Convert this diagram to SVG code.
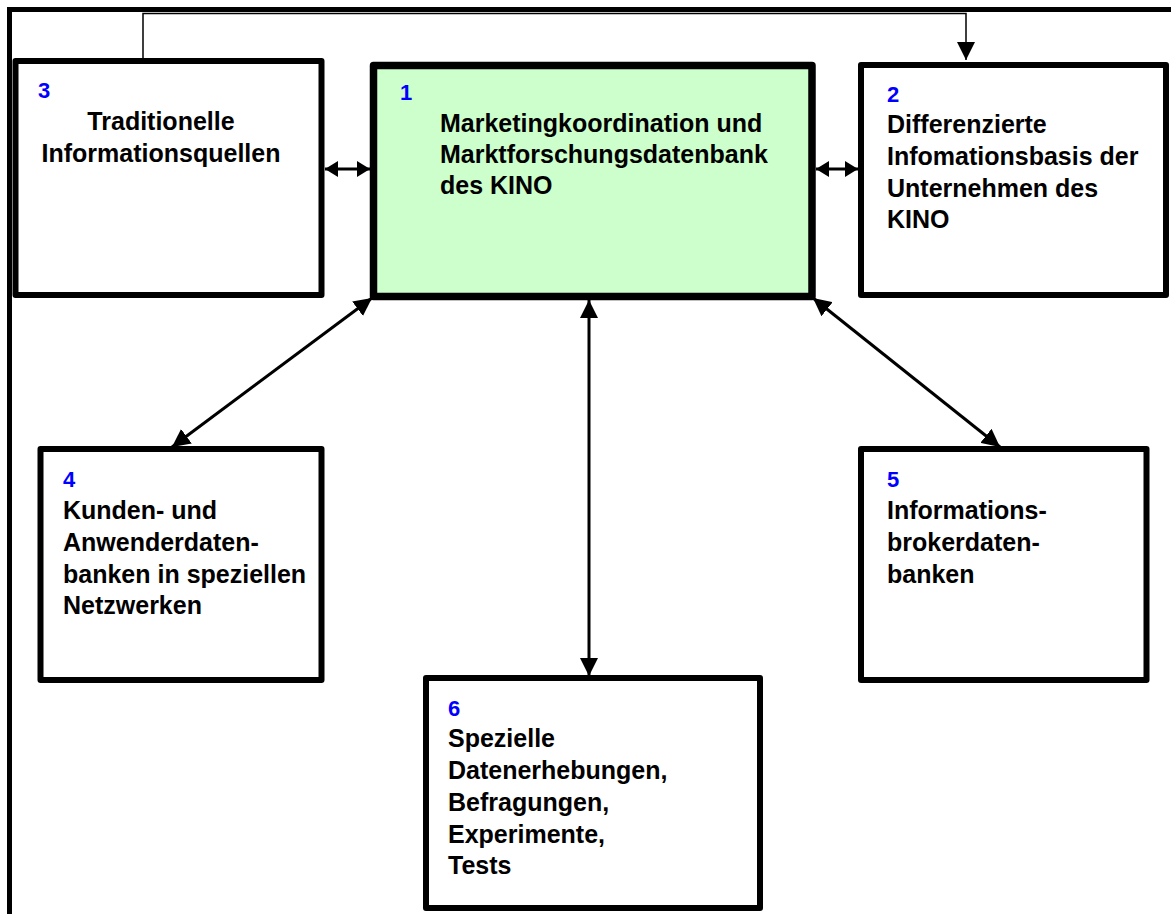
<svg xmlns="http://www.w3.org/2000/svg" width="1171" height="914" viewBox="0 0 1171 914">
<style>
.box{fill:#fff;stroke:#000;stroke-width:6;stroke-linejoin:round}
.main{fill:#ccffcc;stroke:#000;stroke-width:7.5;stroke-linejoin:round}
.t{font-family:"Liberation Sans",Arial,sans-serif;font-weight:bold;font-size:25px;fill:#000}
.n{font-family:"Liberation Sans",Arial,sans-serif;font-weight:bold;font-size:22px;fill:#0000ff}
.c{fill:none;stroke:#000;stroke-width:3}
</style>
<defs>
<marker id="ah" markerUnits="userSpaceOnUse" markerWidth="18" markerHeight="18" refX="16" refY="8" orient="auto-start-reverse" viewBox="0 0 16 16">
<path d="M0,0 L16,8 L0,16 z" fill="#000"/>
</marker>
<marker id="ahs" markerUnits="userSpaceOnUse" markerWidth="14" markerHeight="16" refX="13" refY="8" orient="auto-start-reverse" viewBox="0 0 13 16">
<path d="M0,0 L13,8 L0,16 z" fill="#000"/>
</marker>
</defs>
<rect x="9.5" y="9.5" width="1200" height="1000" fill="none" stroke="#000" stroke-width="5"/>
<g id="connectors">
<polyline points="143,61 143,13.5 966,13.5 966,60" fill="none" stroke="#000" stroke-width="1.5" marker-end="url(#ah)"/>
<line class="c" x1="325" y1="169" x2="370" y2="169" marker-start="url(#ahs)" marker-end="url(#ahs)"/>
<line class="c" x1="816" y1="169" x2="858" y2="169" marker-start="url(#ahs)" marker-end="url(#ahs)"/>
<line class="c" x1="372" y1="298" x2="172" y2="447" marker-start="url(#ah)" marker-end="url(#ah)"/>
<line class="c" x1="813" y1="298" x2="1000" y2="447" marker-start="url(#ah)" marker-end="url(#ah)"/>
<line class="c" x1="589" y1="300" x2="589" y2="676" stroke-width="2.5" marker-start="url(#ah)" marker-end="url(#ah)"/>
</g>
<g id="node3">
<rect class="box" x="15.5" y="61" width="306" height="234"/>
<text class="n" x="38" y="98">3</text>
<text class="t" x="161" y="130" text-anchor="middle">Traditionelle</text>
<text class="t" x="161" y="162" text-anchor="middle">Informationsquellen</text>
</g>
<g id="node1">
<rect class="main" x="373.5" y="65.5" width="438.5" height="231"/>
<text class="n" x="400" y="100">1</text>
<text class="t" x="440" y="132">Marketingkoordination und</text>
<text class="t" x="440" y="163">Marktforschungsdatenbank</text>
<text class="t" x="440" y="194">des KINO</text>
</g>
<g id="node2">
<rect class="box" x="861" y="65" width="305" height="230"/>
<text class="n" x="887" y="102">2</text>
<text class="t" x="887" y="133">Differenzierte</text>
<text class="t" x="887" y="165">Infomationsbasis der</text>
<text class="t" x="887" y="196.5">Unternehmen des</text>
<text class="t" x="887" y="228">KINO</text>
</g>
<g id="node4">
<rect class="box" x="40.5" y="449" width="281" height="231"/>
<text class="n" x="63" y="487">4</text>
<text class="t" x="63" y="518.5">Kunden- und</text>
<text class="t" x="63" y="550.5">Anwenderdaten-</text>
<text class="t" x="63" y="582.5">banken in speziellen</text>
<text class="t" x="63" y="614">Netzwerken</text>
</g>
<g id="node5">
<rect class="box" x="861" y="449" width="285.5" height="231"/>
<text class="n" x="887" y="487">5</text>
<text class="t" x="887" y="518.5">Informations-</text>
<text class="t" x="887" y="550.5">brokerdaten-</text>
<text class="t" x="887" y="582.5">banken</text>
</g>
<g id="node6">
<rect class="box" x="426" y="678" width="334" height="230"/>
<text class="n" x="448" y="716">6</text>
<text class="t" x="448" y="747">Spezielle</text>
<text class="t" x="448" y="779">Datenerhebungen,</text>
<text class="t" x="448" y="811">Befragungen,</text>
<text class="t" x="448" y="843">Experimente,</text>
<text class="t" x="448" y="873.5">Tests</text>
</g>
</svg>
